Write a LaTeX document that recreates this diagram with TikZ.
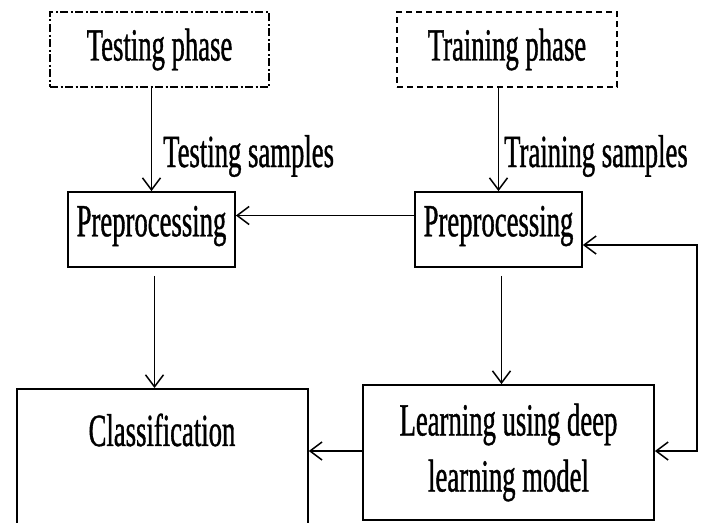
\documentclass[tikz,border=0pt]{standalone}
\usepackage{fontspec}
\setmainfont{Liberation Serif}[FakeStretch=0.58,FakeBold=0.8]
\usetikzlibrary{arrows.meta,calc}
\begin{document}
\begin{tikzpicture}[x=1pt,y=-1pt,
  every node/.style={font=\fontsize{46}{56}\selectfont},
  box/.style={draw, line width=1.8pt, inner sep=0pt, align=center},
  phasebox/.style={draw, line width=1.4pt, inner sep=0pt},
  con/.style={line width=1.6pt, -{Straight Barb[length=12pt,width=18pt,line width=1.5pt]}},
  con2/.style={line width=1.6pt, {Straight Barb[length=12pt,width=18pt,line width=1.5pt]}-{Straight Barb[length=12pt,width=18pt,line width=1.5pt]}}]
\useasboundingbox[fill=white] (0,0) rectangle (706,522);
% phase boxes
\node[phasebox, dash pattern=on 8pt off 2.5pt on 2pt off 2.5pt, minimum width=219pt, minimum height=75pt] (tphase) at (159.5,49.5) {Testing phase};
\node[phasebox, dash pattern=on 6pt off 4pt, minimum width=220pt, minimum height=75pt] (rphase) at (507,49.5) {Training phase};
% preprocessing boxes
\node[box, minimum width=167pt, minimum height=75pt] (tpre) at (151.5,229.5) {};
\node (tpretext) at (151.5,226) {Preprocessing};
\node[box, minimum width=167pt, minimum height=75pt] (rpre) at (498.5,229.5) {};
\node (rpretext) at (498.5,226) {Preprocessing};
% bottom boxes
\node[box, minimum width=291pt, minimum height=150pt, anchor=north west] (cls) at (16,388) {};
\node (clstext) at (162,430) {Classification};
\node[box, minimum width=291pt, minimum height=135pt] (learn) at (508.5,452.5) {Learning using deep\\learning model};
% labels
\node[anchor=base west, inner sep=0pt] (tslab) at (163,167) {Testing samples};
\node[anchor=base west, inner sep=0pt] (rslab) at (504,167) {Training samples};
% connectors
\draw[con] (tpre.north |- tphase.south) -- (tpre.north);
\draw[con] (rpre.north |- rphase.south) -- (rpre.north);
\draw[con] ($(rpre.west)+(0,-14)$) -- ($(tpre.east)+(0,-14)$);
\draw[con] ($(tpre.south)+(3,8)$) -- ($(tpre.south |- cls.north)+(3,0)$);
\draw[con] ($(rpre.south)+(3,8)$) -- ($(rpre.south |- learn.north)+(3,0)$);
\draw[con] ($(learn.west)+(0,-1.5)$) -- ($(cls.east |- learn.west)+(0,-1.5)$);
\coordinate (fbtop) at (697,245);
\draw[con2] ($(learn.east)+(0,-1.5)$) -- ($(fbtop |- learn.east)+(0,-1.5)$) -- (fbtop) -- (rpre.east |- fbtop);
\end{tikzpicture}
\end{document}
